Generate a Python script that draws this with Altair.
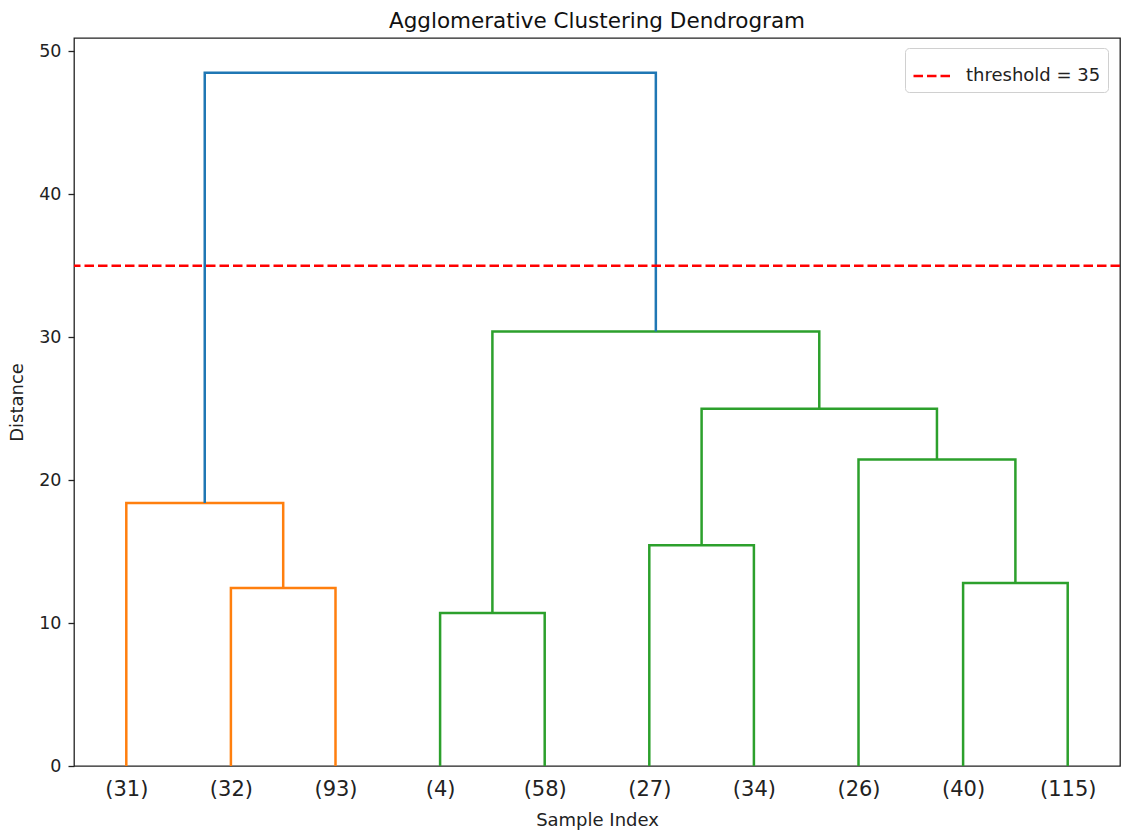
import altair as alt
import pandas as pd

# dendrogram link coordinates (scipy-style icoord / dcoord)
icoord = [
    [15, 15, 25, 25],
    [5, 5, 20, 20],
    [35, 35, 45, 45],
    [55, 55, 65, 65],
    [85, 85, 95, 95],
    [75, 75, 90, 90],
    [60, 60, 82.5, 82.5],
    [40, 40, 71.25, 71.25],
    [12.5, 12.5, 55.625, 55.625],
]
dcoord = [
    [0, 12.45, 12.45, 0],
    [0, 18.4, 18.4, 12.45],
    [0, 10.7, 10.7, 0],
    [0, 15.45, 15.45, 0],
    [0, 12.8, 12.8, 0],
    [0, 21.45, 21.45, 12.8],
    [15.45, 25.0, 25.0, 21.45],
    [10.7, 30.4, 30.4, 25.0],
    [18.4, 48.5, 48.5, 30.4],
]
link_colors = ["#ff7f0e", "#ff7f0e", "#2ca02c", "#2ca02c", "#2ca02c",
               "#2ca02c", "#2ca02c", "#2ca02c", "#1f77b4"]

leaf_positions = [5, 15, 25, 35, 45, 55, 65, 75, 85, 95]
leaf_labels = ["(31)", "(32)", "(93)", "(4)", "(58)", "(27)", "(34)", "(26)", "(40)", "(115)"]

threshold = 35
threshold_label = "threshold = 35"
y_max = 50.93

rows = []
for k, (xs, ys) in enumerate(zip(icoord, dcoord)):
    for j, (x, y) in enumerate(zip(xs, ys)):
        rows.append({"link": k, "order": j, "x": x, "y": y, "color": link_colors[k]})
links = pd.DataFrame(rows)

label_expr = "{" + ",".join(f"'{p}':'{l}'" for p, l in zip(leaf_positions, leaf_labels)) + "}[datum.value]"

FONT = "DejaVu Sans"

x_enc = alt.X(
    "x:Q",
    scale=alt.Scale(domain=[0, 100], nice=False, zero=False),
    axis=alt.Axis(
        values=leaf_positions,
        labelExpr=label_expr,
        ticks=False,
        grid=False,
        domain=False,
        labelFontSize=21,
        labelPadding=12,
        labelColor="#222222",
        labelFont=FONT,
        title="Sample Index",
        titleFont=FONT,
        titleFontSize=18,
        titleFontWeight="normal",
        titleColor="#222222",
        titleY=45,
        titleBaseline="top",
        labelFlush=False,
    ),
)
y_enc = alt.Y(
    "y:Q",
    scale=alt.Scale(domain=[0, y_max], nice=False, zero=True),
    axis=alt.Axis(
        values=[0, 10, 20, 30, 40, 50],
        grid=False,
        domain=False,
        tickSize=6,
        tickWidth=1.3,
        tickColor="#222222",
        labelFontSize=17.5,
        labelPadding=7,
        labelColor="#222222",
        labelFont=FONT,
        labelFlush=False,
        title="Distance",
        titleFont=FONT,
        titleFontSize=18,
        titleFontWeight="normal",
        titleColor="#222222",
        titleX=-48,
        titleY=364,
        titleAngle=-90,
        titleAlign="center",
        titleBaseline="bottom",
    ),
)

dendro = alt.Chart(links).mark_line(strokeWidth=2.5, strokeCap="butt", strokeJoin="miter").encode(
    x=x_enc,
    y=y_enc,
    order="order:Q",
    detail="link:N",
    color=alt.Color("color:N", scale=None, legend=None),
)

thr_df = pd.DataFrame({"y": [threshold], "label": [threshold_label]})
thr = alt.Chart(thr_df).mark_rule(strokeWidth=2.5, strokeDash=[9.5, 4]).encode(
    y=alt.Y("y:Q", scale=alt.Scale(domain=[0, y_max], nice=False)),
    color=alt.Color(
        "label:N",
        scale=alt.Scale(domain=[threshold_label], range=["#ff0000"]),
        legend=alt.Legend(
            title=None,
            orient="none",
            legendX=831,
            legendY=10,
            symbolType="stroke",
            symbolSize=1521,
            symbolStrokeWidth=2.5,
            symbolDash=[9.5, 4],
            labelFontSize=18,
            labelFont=FONT,
            labelColor="#222222",
            labelOffset=12,
            padding=7,
            fillColor="white",
            strokeColor="#d0d0d0",
            cornerRadius=4,
        ),
    ),
)

chart = (
    alt.layer(dendro, thr)
    .resolve_scale(color="independent")
    .properties(
        width=1046,
        height=728,
        autosize=alt.AutoSizeParams(type="none"),
        padding={"left": 74, "top": 38, "right": 1, "bottom": 68},
        title=alt.Title(
            "Agglomerative Clustering Dendrogram",
            font=FONT,
            fontSize=21.5,
            fontWeight="normal",
            color="#111111",
            anchor="middle",
            baseline="alphabetic",
            offset=11,
            dy=22,
        ),
    )
    .configure(background="white", view=alt.ViewConfig(stroke="#222222", strokeWidth=1.3))
)

chart.save("out.html", embed_options={"renderer": "svg", "actions": False})
